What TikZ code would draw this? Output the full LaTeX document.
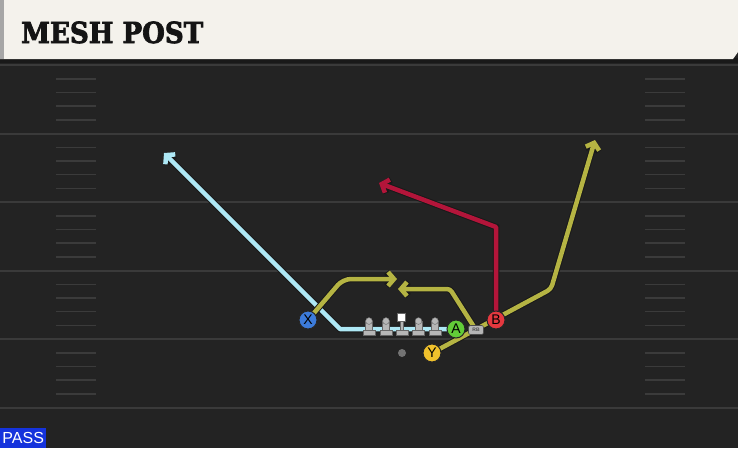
\documentclass[tikz,border=0pt]{standalone}
\usepackage{fontspec}
\setmainfont{DejaVu Serif}
\newfontfamily\titlefont{DejaVu Serif Condensed}[BoldFeatures={FakeBold=2.5}]
\newfontfamily\labelfont{Liberation Sans}
\usetikzlibrary{arrows.meta}
\usetikzlibrary{backgrounds}
\usetikzlibrary{positioning}

\definecolor{fieldbg}{HTML}{232323}
\definecolor{fieldline}{HTML}{3A3A3A}
\definecolor{hashline}{HTML}{3B3B3B}
\definecolor{headbg}{HTML}{F4F2EC}
\definecolor{cyanroute}{HTML}{AEE8F5}
\definecolor{oliveroute}{HTML}{B5B443}
\definecolor{redroute}{HTML}{B3153A}
\definecolor{xblue}{HTML}{3C7BDA}
\definecolor{agreen}{HTML}{62CC38}
\definecolor{bred}{HTML}{E5383F}
\definecolor{yyellow}{HTML}{F0C12C}
\definecolor{passblue}{HTML}{1533DC}
\definecolor{linegray}{HTML}{B6B6B6}

\tikzset{
  route/.style={line width=4.5pt, line join=round,
    -{Straight Barb[length=6pt,width=14pt]},
    preaction={draw=black!90, line width=6.5pt}},
  player/.style={circle, draw=black!85, line width=1pt, minimum size=18pt,
    inner sep=0pt, font=\labelfont\fontsize{14}{14}\selectfont},
  rbtag/.style={rectangle, rounded corners=2pt, fill=linegray, draw=black!70,
    line width=0.6pt, minimum width=15pt, minimum height=9pt, inner sep=0pt,
    font=\labelfont\bfseries\fontsize{5}{5}\selectfont, text=black!70},
  lineman/.style={fill=linegray, draw=black!60, line width=0.4pt}
}

\begin{document}
\begin{tikzpicture}[x=1pt,y=-1pt]
\useasboundingbox (0,0) rectangle (738,448);

% field
\begin{scope}[on background layer]
\fill [fieldbg] (0,0) rectangle (738,448);
\draw [hashline, line width=40pt, dash pattern=on 1.5pt off 12.2pt, dash phase=-13pt] (76,65) -- (76,407.5);
\draw [hashline, line width=40pt, dash pattern=on 1.5pt off 12.2pt, dash phase=-13pt] (665,65) -- (665,407.5);
\draw [fieldline, line width=2pt] (0,65) -- (738,65);
\draw [fieldline, line width=2pt] (0,133.5) -- (738,133.5);
\draw [fieldline, line width=2pt] (0,202) -- (738,202);
\draw [fieldline, line width=2pt] (0,270.5) -- (738,270.5);
\draw [fieldline, line width=2pt] (0,339) -- (738,339);
\draw [fieldline, line width=2pt] (0,407.5) -- (738,407.5);
\end{scope}

% header
\fill [black!90] (0,58) rectangle (738,63);
\fill [headbg] (0,0) -- (738,0) -- (738,52) -- (733,59) -- (0,59) -- cycle;
\fill [black!35] (0,0) rectangle (4,59);
\node [anchor=base west, inner sep=0pt, text=black!92, font=\titlefont\bfseries\fontsize{29}{29}\selectfont] (title) at (21,43) {MESH POST};

% line
\draw [lineman] (365.5,321) rectangle (372.5,331);
\draw [lineman] (363,330.5) rectangle (375,335.5);
\draw [lineman] (369,321) circle (3.4);
\draw [lineman] (382.5,321) rectangle (389.5,331);
\draw [lineman] (380,330.5) rectangle (392,335.5);
\draw [lineman] (386,321) circle (3.4);
\draw [lineman] (400,321) rectangle (403,331);
\draw [lineman] (396,330.5) rectangle (408,335.5);
\draw [fill=white, draw=black!60, line width=0.4pt] (397.5,313.5) rectangle (405.5,321.5);
\draw [lineman] (415,321) rectangle (422,331);
\draw [lineman] (412.5,330.5) rectangle (424.5,335.5);
\draw [lineman] (418.5,321) circle (3.4);
\draw [lineman] (431.5,321) rectangle (438.5,331);
\draw [lineman] (429,330.5) rectangle (441,335.5);
\draw [lineman] (435,321) circle (3.4);

% players
\node [player, fill=xblue] (X) at (308,320) {X};
\node [player, fill=agreen] (A) at (456,329) {A};
\node [player, fill=bred] (B) at (496,320) {B};
\node [player, fill=yyellow] (Y) at (432,353) {Y};
\node [rbtag] (RB) at (476,330) {RB};
\node [circle, fill=black!55, minimum size=8pt, inner sep=0pt] (ball) at (402,353) {};

% routes
\coordinate (blueturn) at (340,329);
\coordinate (blueend) at (164,153);
\coordinate (xturn) at (343,279);
\coordinate (xend) at (397,279);
\coordinate (rbturn) at (450,289);
\coordinate (rbend) at (398,289);
\coordinate (bturn) at (496,227);
\coordinate (bend) at (379,183);
\coordinate (yturn) at (551,289);
\coordinate (yend) at (595,140);
\begin{scope}[on background layer]
\draw [route, draw=cyanroute] (A.center) -- (blueturn) -- (blueend);
\draw [route, draw=oliveroute, rounded corners=8pt] (X.center) -- (xturn) -- (xend);
\draw [route, draw=oliveroute, rounded corners=3pt] (RB.center) -- (rbturn) -- (rbend);
\draw [route, draw=redroute] (B.center) -- (bturn) -- (bend);
\draw [route, draw=oliveroute, rounded corners=4pt] (Y.center) -- (yturn) -- (yend);
\end{scope}

% tag
\node [anchor=south west, fill=passblue, text=white, inner sep=0pt, minimum width=46pt, minimum height=20pt, font=\labelfont\fontsize{16}{16}\selectfont] (pass) at (0,448) {PASS};
\end{tikzpicture}
\end{document}
